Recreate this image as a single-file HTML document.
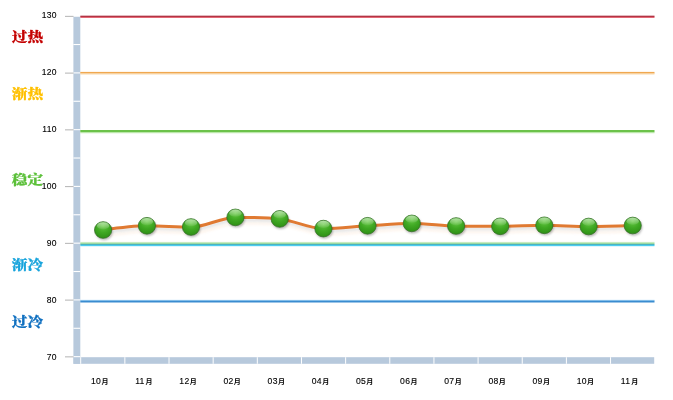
<!DOCTYPE html><html><head><meta charset="utf-8"><title>chart</title><style>html,body{margin:0;padding:0;background:#fff}svg{display:block}text{font-family:"Liberation Sans","Noto Sans CJK SC",sans-serif}.z{font-family:"Liberation Serif","Noto Serif CJK SC",serif;font-weight:900;font-size:12.8px}</style></head><body>
<svg width="673" height="400" viewBox="0 0 673 400">
<defs><radialGradient id="g" cx="0.5" cy="0.25" r="0.8"><stop offset="0" stop-color="#66c944"/><stop offset="0.5" stop-color="#3fa823"/><stop offset="1" stop-color="#2b8c13"/></radialGradient>
<linearGradient id="hl" x1="0" y1="0" x2="0" y2="1"><stop offset="0" stop-color="#fff" stop-opacity="0.55"/><stop offset="1" stop-color="#fff" stop-opacity="0.05"/></linearGradient>
<filter id="sh" x="-30%" y="-30%" width="160%" height="170%"><feGaussianBlur stdDeviation="1"/></filter></defs>
<rect width="673" height="400" fill="#fff"/>
<rect x="73.4" y="16.2" width="6.9" height="347.6" fill="#b7c9dc"/>
<rect x="73.5" y="357.2" width="580.7" height="6.6" fill="#b7c9dc"/>
<rect x="73.4" y="356.10" width="6.9" height="1.1" fill="#fff"/>
<rect x="73.4" y="327.73" width="6.9" height="1.1" fill="#fff"/>
<rect x="73.4" y="299.35" width="6.9" height="1.1" fill="#fff"/>
<rect x="73.4" y="270.98" width="6.9" height="1.1" fill="#fff"/>
<rect x="73.4" y="242.60" width="6.9" height="1.1" fill="#fff"/>
<rect x="73.4" y="214.22" width="6.9" height="1.1" fill="#fff"/>
<rect x="73.4" y="185.85" width="6.9" height="1.1" fill="#fff"/>
<rect x="73.4" y="157.47" width="6.9" height="1.1" fill="#fff"/>
<rect x="73.4" y="129.10" width="6.9" height="1.1" fill="#fff"/>
<rect x="73.4" y="100.72" width="6.9" height="1.1" fill="#fff"/>
<rect x="73.4" y="72.35" width="6.9" height="1.1" fill="#fff"/>
<rect x="73.4" y="43.98" width="6.9" height="1.1" fill="#fff"/>
<rect x="73.4" y="15.60" width="6.9" height="1.1" fill="#fff"/>
<rect x="80.20" y="357.2" width="1" height="6.6" fill="#fff"/>
<rect x="124.35" y="357.2" width="1" height="6.6" fill="#fff"/>
<rect x="168.51" y="357.2" width="1" height="6.6" fill="#fff"/>
<rect x="212.66" y="357.2" width="1" height="6.6" fill="#fff"/>
<rect x="256.82" y="357.2" width="1" height="6.6" fill="#fff"/>
<rect x="300.97" y="357.2" width="1" height="6.6" fill="#fff"/>
<rect x="345.12" y="357.2" width="1" height="6.6" fill="#fff"/>
<rect x="389.28" y="357.2" width="1" height="6.6" fill="#fff"/>
<rect x="433.43" y="357.2" width="1" height="6.6" fill="#fff"/>
<rect x="477.58" y="357.2" width="1" height="6.6" fill="#fff"/>
<rect x="521.74" y="357.2" width="1" height="6.6" fill="#fff"/>
<rect x="565.89" y="357.2" width="1" height="6.6" fill="#fff"/>
<rect x="610.05" y="357.2" width="1" height="6.6" fill="#fff"/>
<rect x="65" y="356.35" width="8.5" height="1" fill="#b4b4b4"/>
<text x="56.9" y="359.60" font-size="8.5" text-anchor="end" fill="#000" stroke="#000" stroke-width="0.12" letter-spacing="0.35">70</text>
<rect x="65" y="299.60" width="8.5" height="1" fill="#b4b4b4"/>
<text x="56.9" y="302.65" font-size="8.5" text-anchor="end" fill="#000" stroke="#000" stroke-width="0.12" letter-spacing="0.35">80</text>
<rect x="65" y="242.85" width="8.5" height="1" fill="#b4b4b4"/>
<text x="56.9" y="245.70" font-size="8.5" text-anchor="end" fill="#000" stroke="#000" stroke-width="0.12" letter-spacing="0.35">90</text>
<rect x="65" y="186.10" width="8.5" height="1" fill="#b4b4b4"/>
<text x="56.9" y="188.75" font-size="8.5" text-anchor="end" fill="#000" stroke="#000" stroke-width="0.12" letter-spacing="0.35">100</text>
<rect x="65" y="129.35" width="8.5" height="1" fill="#b4b4b4"/>
<text x="56.9" y="131.80" font-size="8.5" text-anchor="end" fill="#000" stroke="#000" stroke-width="0.12" letter-spacing="0.35">110</text>
<rect x="65" y="72.60" width="8.5" height="1" fill="#b4b4b4"/>
<text x="56.9" y="74.85" font-size="8.5" text-anchor="end" fill="#000" stroke="#000" stroke-width="0.12" letter-spacing="0.35">120</text>
<rect x="65" y="15.85" width="8.5" height="1" fill="#b4b4b4"/>
<text x="56.9" y="17.90" font-size="8.5" text-anchor="end" fill="#000" stroke="#000" stroke-width="0.12" letter-spacing="0.35">130</text>
<rect x="80.3" y="15.70" width="574.2" height="1.20" fill="#a51a2c"/>
<rect x="80.3" y="16.90" width="574.2" height="1.00" fill="#e05868"/>
<rect x="80.3" y="71.90" width="574.2" height="1.60" fill="#f0a850"/>
<rect x="80.3" y="73.50" width="574.2" height="0.90" fill="#f8cf98"/>
<rect x="80.3" y="130.00" width="574.2" height="2.20" fill="#6cc24a"/>
<rect x="80.3" y="132.20" width="574.2" height="1.00" fill="#b4e4a0"/>
<rect x="80.3" y="241.90" width="574.2" height="0.90" fill="#c8ecc0"/>
<rect x="80.3" y="242.80" width="574.2" height="1.10" fill="#9fdc96"/>
<rect x="80.3" y="243.90" width="574.2" height="1.00" fill="#38a8b4"/>
<rect x="80.3" y="244.90" width="574.2" height="1.10" fill="#4ccdf0"/>
<rect x="80.3" y="246.00" width="574.2" height="0.50" fill="#c0ecf8"/>
<rect x="80.3" y="299.90" width="574.2" height="0.80" fill="#7cc0f0"/>
<rect x="80.3" y="300.70" width="574.2" height="1.80" fill="#3a8cd0"/>
<text class="z" transform="translate(11.8,40.6) scale(1.22,1)" fill="#c40000" stroke="#c40000" stroke-width="0.25">过热</text>
<text class="z" transform="translate(11.8,98.3) scale(1.22,1)" fill="#ffc000" stroke="#ffc000" stroke-width="0.25">渐热</text>
<text class="z" transform="translate(11.8,183.9) scale(1.22,1)" fill="#5cc03a" stroke="#5cc03a" stroke-width="0.25">稳定</text>
<text class="z" transform="translate(11.8,269.3) scale(1.22,1)" fill="#18a4dc" stroke="#18a4dc" stroke-width="0.25">渐冷</text>
<text class="z" transform="translate(11.8,326.4) scale(1.22,1)" fill="#1070c0" stroke="#1070c0" stroke-width="0.25">过冷</text>
<path d="M103.10,230.00 C117.70,227.90 132.30,225.80 146.90,225.80 C161.60,225.80 176.30,227.00 191.00,227.00 C205.80,227.00 220.60,217.40 235.40,217.40 C250.17,217.40 264.93,217.40 279.70,218.90 C294.27,220.38 308.83,228.60 323.40,228.60 C338.10,228.60 352.80,226.66 367.50,225.80 C382.27,224.93 397.03,223.40 411.80,223.40 C426.57,223.40 441.33,225.70 456.10,226.00 C470.80,226.30 485.50,226.30 500.20,226.30 C514.90,226.30 529.60,225.30 544.30,225.30 C559.07,225.30 573.83,226.50 588.60,226.50 C603.30,226.50 618.00,226.00 632.70,225.50" transform="translate(1,2.5)" fill="none" stroke="#000" stroke-opacity="0.10" stroke-width="3" filter="url(#sh)"/>
<path d="M103.10,230.00 C117.70,227.90 132.30,225.80 146.90,225.80 C161.60,225.80 176.30,227.00 191.00,227.00 C205.80,227.00 220.60,217.40 235.40,217.40 C250.17,217.40 264.93,217.40 279.70,218.90 C294.27,220.38 308.83,228.60 323.40,228.60 C338.10,228.60 352.80,226.66 367.50,225.80 C382.27,224.93 397.03,223.40 411.80,223.40 C426.57,223.40 441.33,225.70 456.10,226.00 C470.80,226.30 485.50,226.30 500.20,226.30 C514.90,226.30 529.60,225.30 544.30,225.30 C559.07,225.30 573.83,226.50 588.60,226.50 C603.30,226.50 618.00,226.00 632.70,225.50" transform="translate(2,6)" fill="none" stroke="#f0a060" stroke-opacity="0.13" stroke-width="2" filter="url(#sh)"/>
<path d="M103.10,230.00 C117.70,227.90 132.30,225.80 146.90,225.80 C161.60,225.80 176.30,227.00 191.00,227.00 C205.80,227.00 220.60,217.40 235.40,217.40 C250.17,217.40 264.93,217.40 279.70,218.90 C294.27,220.38 308.83,228.60 323.40,228.60 C338.10,228.60 352.80,226.66 367.50,225.80 C382.27,224.93 397.03,223.40 411.80,223.40 C426.57,223.40 441.33,225.70 456.10,226.00 C470.80,226.30 485.50,226.30 500.20,226.30 C514.90,226.30 529.60,225.30 544.30,225.30 C559.07,225.30 573.83,226.50 588.60,226.50 C603.30,226.50 618.00,226.00 632.70,225.50" fill="none" stroke="#e07a32" stroke-width="3" stroke-linecap="round" stroke-linejoin="round"/>
<ellipse cx="104.1" cy="231.8" rx="8.6" ry="8.4" fill="#000" fill-opacity="0.28" filter="url(#sh)"/>
<ellipse cx="103.1" cy="230.0" rx="8.6" ry="8.35" fill="url(#g)" stroke="#356f28" stroke-width="0.9" stroke-opacity="0.85"/>
<ellipse cx="103.1" cy="225.8" rx="6.2" ry="3.6" fill="url(#hl)"/>
<ellipse cx="147.9" cy="227.6" rx="8.6" ry="8.4" fill="#000" fill-opacity="0.28" filter="url(#sh)"/>
<ellipse cx="146.9" cy="225.8" rx="8.6" ry="8.35" fill="url(#g)" stroke="#356f28" stroke-width="0.9" stroke-opacity="0.85"/>
<ellipse cx="146.9" cy="221.6" rx="6.2" ry="3.6" fill="url(#hl)"/>
<ellipse cx="192.0" cy="228.8" rx="8.6" ry="8.4" fill="#000" fill-opacity="0.28" filter="url(#sh)"/>
<ellipse cx="191.0" cy="227.0" rx="8.6" ry="8.35" fill="url(#g)" stroke="#356f28" stroke-width="0.9" stroke-opacity="0.85"/>
<ellipse cx="191.0" cy="222.8" rx="6.2" ry="3.6" fill="url(#hl)"/>
<ellipse cx="236.4" cy="219.2" rx="8.6" ry="8.4" fill="#000" fill-opacity="0.28" filter="url(#sh)"/>
<ellipse cx="235.4" cy="217.4" rx="8.6" ry="8.35" fill="url(#g)" stroke="#356f28" stroke-width="0.9" stroke-opacity="0.85"/>
<ellipse cx="235.4" cy="213.2" rx="6.2" ry="3.6" fill="url(#hl)"/>
<ellipse cx="280.7" cy="220.7" rx="8.6" ry="8.4" fill="#000" fill-opacity="0.28" filter="url(#sh)"/>
<ellipse cx="279.7" cy="218.9" rx="8.6" ry="8.35" fill="url(#g)" stroke="#356f28" stroke-width="0.9" stroke-opacity="0.85"/>
<ellipse cx="279.7" cy="214.7" rx="6.2" ry="3.6" fill="url(#hl)"/>
<ellipse cx="324.4" cy="230.4" rx="8.6" ry="8.4" fill="#000" fill-opacity="0.28" filter="url(#sh)"/>
<ellipse cx="323.4" cy="228.6" rx="8.6" ry="8.35" fill="url(#g)" stroke="#356f28" stroke-width="0.9" stroke-opacity="0.85"/>
<ellipse cx="323.4" cy="224.4" rx="6.2" ry="3.6" fill="url(#hl)"/>
<ellipse cx="368.5" cy="227.6" rx="8.6" ry="8.4" fill="#000" fill-opacity="0.28" filter="url(#sh)"/>
<ellipse cx="367.5" cy="225.8" rx="8.6" ry="8.35" fill="url(#g)" stroke="#356f28" stroke-width="0.9" stroke-opacity="0.85"/>
<ellipse cx="367.5" cy="221.6" rx="6.2" ry="3.6" fill="url(#hl)"/>
<ellipse cx="412.8" cy="225.2" rx="8.6" ry="8.4" fill="#000" fill-opacity="0.28" filter="url(#sh)"/>
<ellipse cx="411.8" cy="223.4" rx="8.6" ry="8.35" fill="url(#g)" stroke="#356f28" stroke-width="0.9" stroke-opacity="0.85"/>
<ellipse cx="411.8" cy="219.2" rx="6.2" ry="3.6" fill="url(#hl)"/>
<ellipse cx="457.1" cy="227.8" rx="8.6" ry="8.4" fill="#000" fill-opacity="0.28" filter="url(#sh)"/>
<ellipse cx="456.1" cy="226.0" rx="8.6" ry="8.35" fill="url(#g)" stroke="#356f28" stroke-width="0.9" stroke-opacity="0.85"/>
<ellipse cx="456.1" cy="221.8" rx="6.2" ry="3.6" fill="url(#hl)"/>
<ellipse cx="501.2" cy="228.1" rx="8.6" ry="8.4" fill="#000" fill-opacity="0.28" filter="url(#sh)"/>
<ellipse cx="500.2" cy="226.3" rx="8.6" ry="8.35" fill="url(#g)" stroke="#356f28" stroke-width="0.9" stroke-opacity="0.85"/>
<ellipse cx="500.2" cy="222.1" rx="6.2" ry="3.6" fill="url(#hl)"/>
<ellipse cx="545.3" cy="227.1" rx="8.6" ry="8.4" fill="#000" fill-opacity="0.28" filter="url(#sh)"/>
<ellipse cx="544.3" cy="225.3" rx="8.6" ry="8.35" fill="url(#g)" stroke="#356f28" stroke-width="0.9" stroke-opacity="0.85"/>
<ellipse cx="544.3" cy="221.1" rx="6.2" ry="3.6" fill="url(#hl)"/>
<ellipse cx="589.6" cy="228.3" rx="8.6" ry="8.4" fill="#000" fill-opacity="0.28" filter="url(#sh)"/>
<ellipse cx="588.6" cy="226.5" rx="8.6" ry="8.35" fill="url(#g)" stroke="#356f28" stroke-width="0.9" stroke-opacity="0.85"/>
<ellipse cx="588.6" cy="222.3" rx="6.2" ry="3.6" fill="url(#hl)"/>
<ellipse cx="633.7" cy="227.3" rx="8.6" ry="8.4" fill="#000" fill-opacity="0.28" filter="url(#sh)"/>
<ellipse cx="632.7" cy="225.5" rx="8.6" ry="8.35" fill="url(#g)" stroke="#356f28" stroke-width="0.9" stroke-opacity="0.85"/>
<ellipse cx="632.7" cy="221.3" rx="6.2" ry="3.6" fill="url(#hl)"/>
<text x="91.00" y="384" font-size="8.6" letter-spacing="0.3" fill="#000" stroke="#000" stroke-width="0.12">10</text><text x="101.40" y="384.4" font-size="7" font-weight="bold" fill="#000">月</text>
<text x="135.15" y="384" font-size="8.6" letter-spacing="0.3" fill="#000" stroke="#000" stroke-width="0.12">11</text><text x="145.55" y="384.4" font-size="7" font-weight="bold" fill="#000">月</text>
<text x="179.31" y="384" font-size="8.6" letter-spacing="0.3" fill="#000" stroke="#000" stroke-width="0.12">12</text><text x="189.71" y="384.4" font-size="7" font-weight="bold" fill="#000">月</text>
<text x="223.46" y="384" font-size="8.6" letter-spacing="0.3" fill="#000" stroke="#000" stroke-width="0.12">02</text><text x="233.86" y="384.4" font-size="7" font-weight="bold" fill="#000">月</text>
<text x="267.62" y="384" font-size="8.6" letter-spacing="0.3" fill="#000" stroke="#000" stroke-width="0.12">03</text><text x="278.02" y="384.4" font-size="7" font-weight="bold" fill="#000">月</text>
<text x="311.77" y="384" font-size="8.6" letter-spacing="0.3" fill="#000" stroke="#000" stroke-width="0.12">04</text><text x="322.17" y="384.4" font-size="7" font-weight="bold" fill="#000">月</text>
<text x="355.92" y="384" font-size="8.6" letter-spacing="0.3" fill="#000" stroke="#000" stroke-width="0.12">05</text><text x="366.32" y="384.4" font-size="7" font-weight="bold" fill="#000">月</text>
<text x="400.08" y="384" font-size="8.6" letter-spacing="0.3" fill="#000" stroke="#000" stroke-width="0.12">06</text><text x="410.48" y="384.4" font-size="7" font-weight="bold" fill="#000">月</text>
<text x="444.23" y="384" font-size="8.6" letter-spacing="0.3" fill="#000" stroke="#000" stroke-width="0.12">07</text><text x="454.63" y="384.4" font-size="7" font-weight="bold" fill="#000">月</text>
<text x="488.38" y="384" font-size="8.6" letter-spacing="0.3" fill="#000" stroke="#000" stroke-width="0.12">08</text><text x="498.78" y="384.4" font-size="7" font-weight="bold" fill="#000">月</text>
<text x="532.54" y="384" font-size="8.6" letter-spacing="0.3" fill="#000" stroke="#000" stroke-width="0.12">09</text><text x="542.94" y="384.4" font-size="7" font-weight="bold" fill="#000">月</text>
<text x="576.69" y="384" font-size="8.6" letter-spacing="0.3" fill="#000" stroke="#000" stroke-width="0.12">10</text><text x="587.09" y="384.4" font-size="7" font-weight="bold" fill="#000">月</text>
<text x="620.85" y="384" font-size="8.6" letter-spacing="0.3" fill="#000" stroke="#000" stroke-width="0.12">11</text><text x="631.25" y="384.4" font-size="7" font-weight="bold" fill="#000">月</text>
</svg></body></html>
